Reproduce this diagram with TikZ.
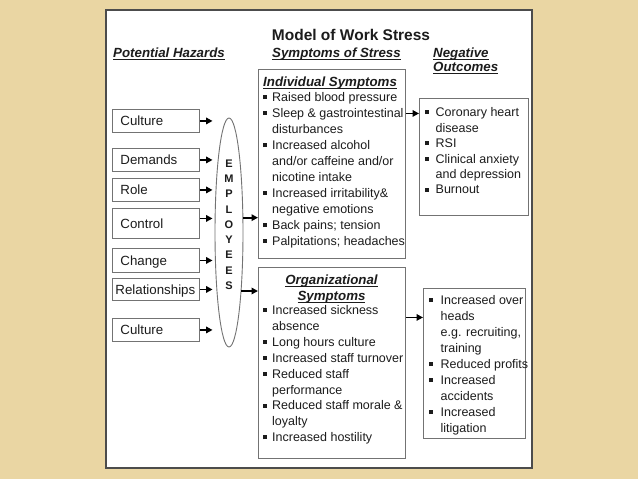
\documentclass[tikz,border=0pt]{standalone}
\usepackage{fontspec}
\setmainfont{Liberation Sans}
\usetikzlibrary{arrows.meta,shapes.geometric}
\definecolor{bg}{RGB}{234,214,163}
\definecolor{ink}{RGB}{28,28,28}
\definecolor{edge}{RGB}{115,115,115}
\newlength\ulnw
\newcommand\uln[1]{\settowidth{\ulnw}{#1}\rlap{\rule[-2.8pt]{\ulnw}{0.9pt}}#1}
\newcommand\bu[1][9pt]{\makebox[#1][l]{\raisebox{2.4pt}{\rule{4pt}{4pt}}}}
\newcommand\cn[1][9pt]{\hspace*{#1}}
\begin{document}
\begin{tikzpicture}[x=1pt,y=-1pt,
  every node/.style={text=ink, inner sep=0pt},
  hz/.style={draw=edge, line width=0.9pt, anchor=north west, inner xsep=8pt,
    text width=71pt, align=left, text height=9.6pt, text depth=0pt,
    font=\fontsize{13.3}{15}\selectfont},
  sbox/.style={draw=edge, line width=0.9pt, anchor=north west},
  head/.style={font=\bfseries\itshape\fontsize{13.3}{14.5}\selectfont},
  body/.style={anchor=base west},
  arr/.style={-{Triangle[length=6.5pt,width=6.5pt]}, line width=1.9pt, black}]
\useasboundingbox (0,0) rectangle (638,479);
\fill[bg] (0,0) rectangle (638,479);
\draw[fill=white, draw=gray!60!black, line width=1.5pt] (106,10) rectangle (532,468);

% headings
\node[anchor=base, font=\bfseries\fontsize{15.5}{17}\selectfont] (title) at (351,40) {Model of Work Stress};
\node[head, anchor=base west] (hph) at (113,57) {\uln{Potential Hazards}};
\node[head, anchor=base west] (hss) at (272,57) {\uln{Symptoms of Stress}};
\node[head, anchor=base west] (hno) at (433,57) {\begin{tabular}[t]{@{}l@{}}\uln{Negative}\\\uln{Outcomes}\end{tabular}};

% hazard boxes
\node[hz, minimum height=23pt] (cul1) at (112,109) {Culture};
\node[hz, minimum height=23pt] (dem) at (112,148) {Demands};
\node[hz, minimum height=23pt] (rol) at (112,178) {Role};
\node[hz, minimum height=30pt] (ctl) at (112,208) {Control};
\node[hz, minimum height=24pt] (chg) at (112,248) {Change};
\node[hz, minimum height=22pt, inner xsep=3pt, text width=81pt] (rel) at (112,278) {Relationships};
\node[hz, minimum height=23pt] (cul2) at (112,318) {Culture};

% employees ellipse
\node[ellipse, draw=edge, line width=0.9pt, minimum width=28pt, minimum height=229pt] (emp) at (229,232.5) {};
\node[anchor=base, font=\bfseries\fontsize{11}{15.25}\selectfont] (emptxt) at (229,167.3)
  {\begin{tabular}[t]{@{}c@{}}E\\M\\P\\L\\O\\Y\\E\\E\\S\end{tabular}};

% symptom boxes
\node[sbox, minimum width=147pt, minimum height=189pt] (ind) at (258,69) {};
\node[sbox, minimum width=147pt, minimum height=191pt] (org) at (258,267) {};
\node[sbox, minimum width=109pt, minimum height=117pt] (out1) at (419,98) {};
\node[sbox, minimum width=102pt, minimum height=150pt] (out2) at (423,288) {};

\node[head, anchor=base west] (indh) at (263,86.5) {\uln{Individual Symptoms}};
\node[body, font=\fontsize{12.5}{16}\selectfont] (indt) at (263,101.5) {\begin{tabular}[t]{@{}l@{}}
\bu Raised blood pressure\\
\bu Sleep \& gastrointestinal\\
\cn disturbances\\
\bu Increased alcohol\\
\cn and/or caffeine and/or\\
\cn nicotine intake\\
\bu Increased irritability\&\\
\cn negative emotions\\
\bu Back pains; tension\\
\bu Palpitations; headaches
\end{tabular}};

\node[head, anchor=base, font=\bfseries\itshape\fontsize{13.3}{16}\selectfont] (orgh) at (331.5,284.5)
  {\begin{tabular}[t]{@{}c@{}}\uln{Organizational}\\\uln{Symptoms}\end{tabular}};
\node[body, font=\fontsize{12.5}{15.9}\selectfont] (orgt) at (263,314.5) {\begin{tabular}[t]{@{}l@{}}
\bu Increased sickness\\
\cn absence\\
\bu Long hours culture\\
\bu Increased staff turnover\\
\bu Reduced staff\\
\cn performance\\
\bu Reduced staff morale \&\\
\cn loyalty\\
\bu Increased hostility
\end{tabular}};

\node[body, font=\fontsize{12.5}{15.5}\selectfont] (out1t) at (425,116.5) {\begin{tabular}[t]{@{}l@{}}
\bu[7pt] Coronary heart\\
\cn[7pt] disease\\
\bu[7pt] RSI\\
\bu[7pt] Clinical anxiety\\
\cn[7pt] and depression\\
\bu[7pt] Burnout
\end{tabular}};

\node[body, font=\fontsize{12.5}{16}\selectfont] (out2t) at (429,304.5) {\begin{tabular}[t]{@{}l@{}}
\bu[8pt] Increased over\\
\cn[8pt] heads\\
\cn[8pt] e.g. recruiting,\\
\cn[8pt] training\\
\bu[8pt] Reduced profits\\
\bu[8pt] Increased\\
\cn[8pt] accidents\\
\bu[8pt] Increased\\
\cn[8pt] litigation
\end{tabular}};

% arrows hazards -> employees
\foreach \n in {cul1,dem,rol,chg,rel,cul2}
  \draw[arr, shorten >=2pt] (\n.east) -- (\n.east -| emp.west);
\coordinate (c5) at ([yshift=5pt]ctl.east);
\draw[arr, shorten >=2pt] (c5) -- (c5 -| emp.west);

% employees -> symptoms
\draw[arr] (emp.46) -- (emp.46 -| ind.west);
\draw[arr] (emp.-78) -- (emp.-78 -| org.west);

% symptoms -> outcomes
\coordinate (i1) at ([yshift=50.5pt]ind.east);
\draw[arr] (i1) -- (i1 -| out1.west);
\coordinate (o1) at ([yshift=45.5pt]org.east);
\draw[arr] (o1) -- (o1 -| out2.west);
\end{tikzpicture}
\end{document}
